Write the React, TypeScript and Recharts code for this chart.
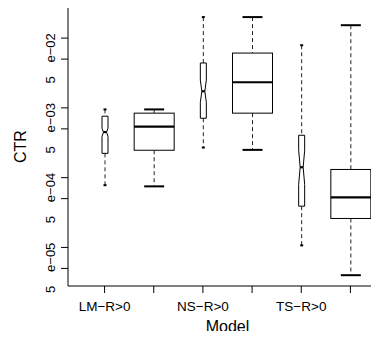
import React from "react";
import { ComposedChart, Bar, XAxis, YAxis, ReferenceLine } from "recharts";

// one box per category; the second box of each model has no label
const categories = ["LM-a", "LM-b", "NS-a", "NS-b", "TS-a", "TS-b"];
const tickLabels = ["LM\u2212R>0", "", "NS\u2212R>0", "", "TS\u2212R>0", ""];

const whiskerLow = [7.8e-4, 7.5e-4, 2.7e-3, 2.5e-3, 1.07e-4, 4.0e-5];
const lowerQuartile = [2.23e-3, 2.47e-3, 7.1e-3, 8.4e-3, 3.9e-4, 2.6e-4];
const median = [4.5e-3, 5.4e-3, 1.73e-2, 2.33e-2, 1.41e-3, 5.2e-4];
const upperQuartile = [7.6e-3, 8.4e-3, 4.4e-2, 6.1e-2, 4.05e-3, 1.31e-3];
const whiskerHigh = [9.5e-3, 9.5e-3, 0.2, 0.2, 7.9e-2, 0.153];
const notchLow = [3.9e-3, null, 1.2e-2, null, 8.0e-4, null];
const notchHigh = [5.1e-3, null, 2.5e-2, null, 2.47e-3, null];

const yTicks = [5e-5, 1e-4, 5e-4, 1e-3, 5e-3, 1e-2, 5e-2, 1e-1];
const yDomain = [2.8e-5, 0.279];

const rows = categories.map((key, i) => ({
  key,
  range: [whiskerLow[i], whiskerHigh[i]],
  lo: whiskerLow[i],
  q1: lowerQuartile[i],
  med: median[i],
  q3: upperQuartile[i],
  hi: whiskerHigh[i],
  nlo: notchLow[i],
  nhi: notchHigh[i],
}));

const FONT = "'Liberation Sans', Arial, Helvetica, sans-serif";

// box drawn inside the whisker range; log scale so interpolate in log space
const BoxShape = (props: any) => {
  const { x, y, width, height, payload } = props;
  if (!payload || height == null) return null;
  const cx = x + width / 2;
  const lhi = Math.log10(payload.hi);
  const llo = Math.log10(payload.lo);
  const py = (v: number) => y + ((lhi - Math.log10(v)) / (lhi - llo)) * height;
  const notched = payload.nlo != null;
  const hw = notched ? 3 : 20;
  const staple = notched ? 1.5 : 10;

  const yq1 = py(payload.q1);
  const yq3 = py(payload.q3);
  const ym = py(payload.med);

  let outline: React.ReactNode;
  if (notched) {
    const yn1 = py(payload.nlo);
    const yn2 = py(payload.nhi);
    const pts = [
      [cx - hw, yq1],
      [cx - hw, yn1],
      [cx - hw / 2, ym],
      [cx - hw, yn2],
      [cx - hw, yq3],
      [cx + hw, yq3],
      [cx + hw, yn2],
      [cx + hw / 2, ym],
      [cx + hw, yn1],
      [cx + hw, yq1],
    ]
      .map((p) => p.join(","))
      .join(" ");
    outline = <polygon points={pts} fill="#fff" stroke="#000" strokeWidth={1} />;
  } else {
    outline = (
      <rect x={cx - hw} y={yq3} width={hw * 2} height={yq1 - yq3} fill="#fff" stroke="#000" strokeWidth={1} />
    );
  }
  const mw = notched ? hw / 2 : hw;

  return (
    <g>
      <line x1={cx} x2={cx} y1={y} y2={yq3} stroke="#222" strokeDasharray="4 3" />
      <line x1={cx} x2={cx} y1={yq1} y2={y + height} stroke="#222" strokeDasharray="4 3" />
      <line x1={cx - staple} x2={cx + staple} y1={y} y2={y} stroke="#000" strokeWidth={2} />
      <line x1={cx - staple} x2={cx + staple} y1={y + height} y2={y + height} stroke="#000" strokeWidth={2} />
      {outline}
      <line x1={cx - mw} x2={cx + mw} y1={ym} y2={ym} stroke="#000" strokeWidth={2.2} />
    </g>
  );
};

const YTick = (props: any) => {
  const { y, payload } = props;
  const v = payload.value;
  const exp = Math.floor(Math.log10(v) + 1e-9);
  const mant = Math.round(v / Math.pow(10, exp));
  if (mant !== 5) return null;
  const expStr = "e\u2212" + String(Math.abs(exp)).padStart(2, "0");
  return (
    <g transform={`translate(54.5, ${y}) rotate(-90)`}>
      <text x={-24.5} y={0} fontSize={13} fontFamily={FONT} fill="#000">
        {String(mant)}
      </text>
      <text x={-3.5} y={0} fontSize={13} fontFamily={FONT} fill="#000">
        {expStr}
      </text>
    </g>
  );
};

export default function App() {
  return (
    <div style={{ margin: -8, width: 379, height: 339, overflow: "hidden", background: "#fff" }}>
      <ComposedChart
        width={400}
        height={339}
        data={rows}
        margin={{ top: 7, right: 13, bottom: 0, left: 0 }}
        style={{ fontFamily: FONT }}
      >
        <XAxis
          dataKey="key"
          padding={{ left: 12, right: 12 }}
          height={53}
          interval={0}
          tickSize={7}
          tickMargin={8}
          stroke="#000"
          tickFormatter={(v: string) => tickLabels[categories.indexOf(v)] ?? ""}
          tick={{ fill: "#000", fontSize: 13.5, fontFamily: FONT }}
          label={{ value: "Model", position: "insideBottom", offset: 7, fontSize: 16, fill: "#000", fontFamily: FONT }}
        />
        <YAxis
          type="number"
          scale="log"
          domain={yDomain}
          allowDataOverflow
          ticks={yTicks}
          interval={0}
          width={68}
          tickSize={7}
          stroke="#000"
          tick={(p: any) => <YTick {...p} />}
          label={{ value: "CTR", angle: -90, position: "center", dx: -13.5, fontSize: 16, fill: "#000", fontFamily: FONT }}
        />
        <ReferenceLine y={yDomain[1]} stroke="#000" ifOverflow="extendDomain" />
        <Bar dataKey="range" barSize={40} isAnimationActive={false} shape={BoxShape} />
      </ComposedChart>
    </div>
  );
}
